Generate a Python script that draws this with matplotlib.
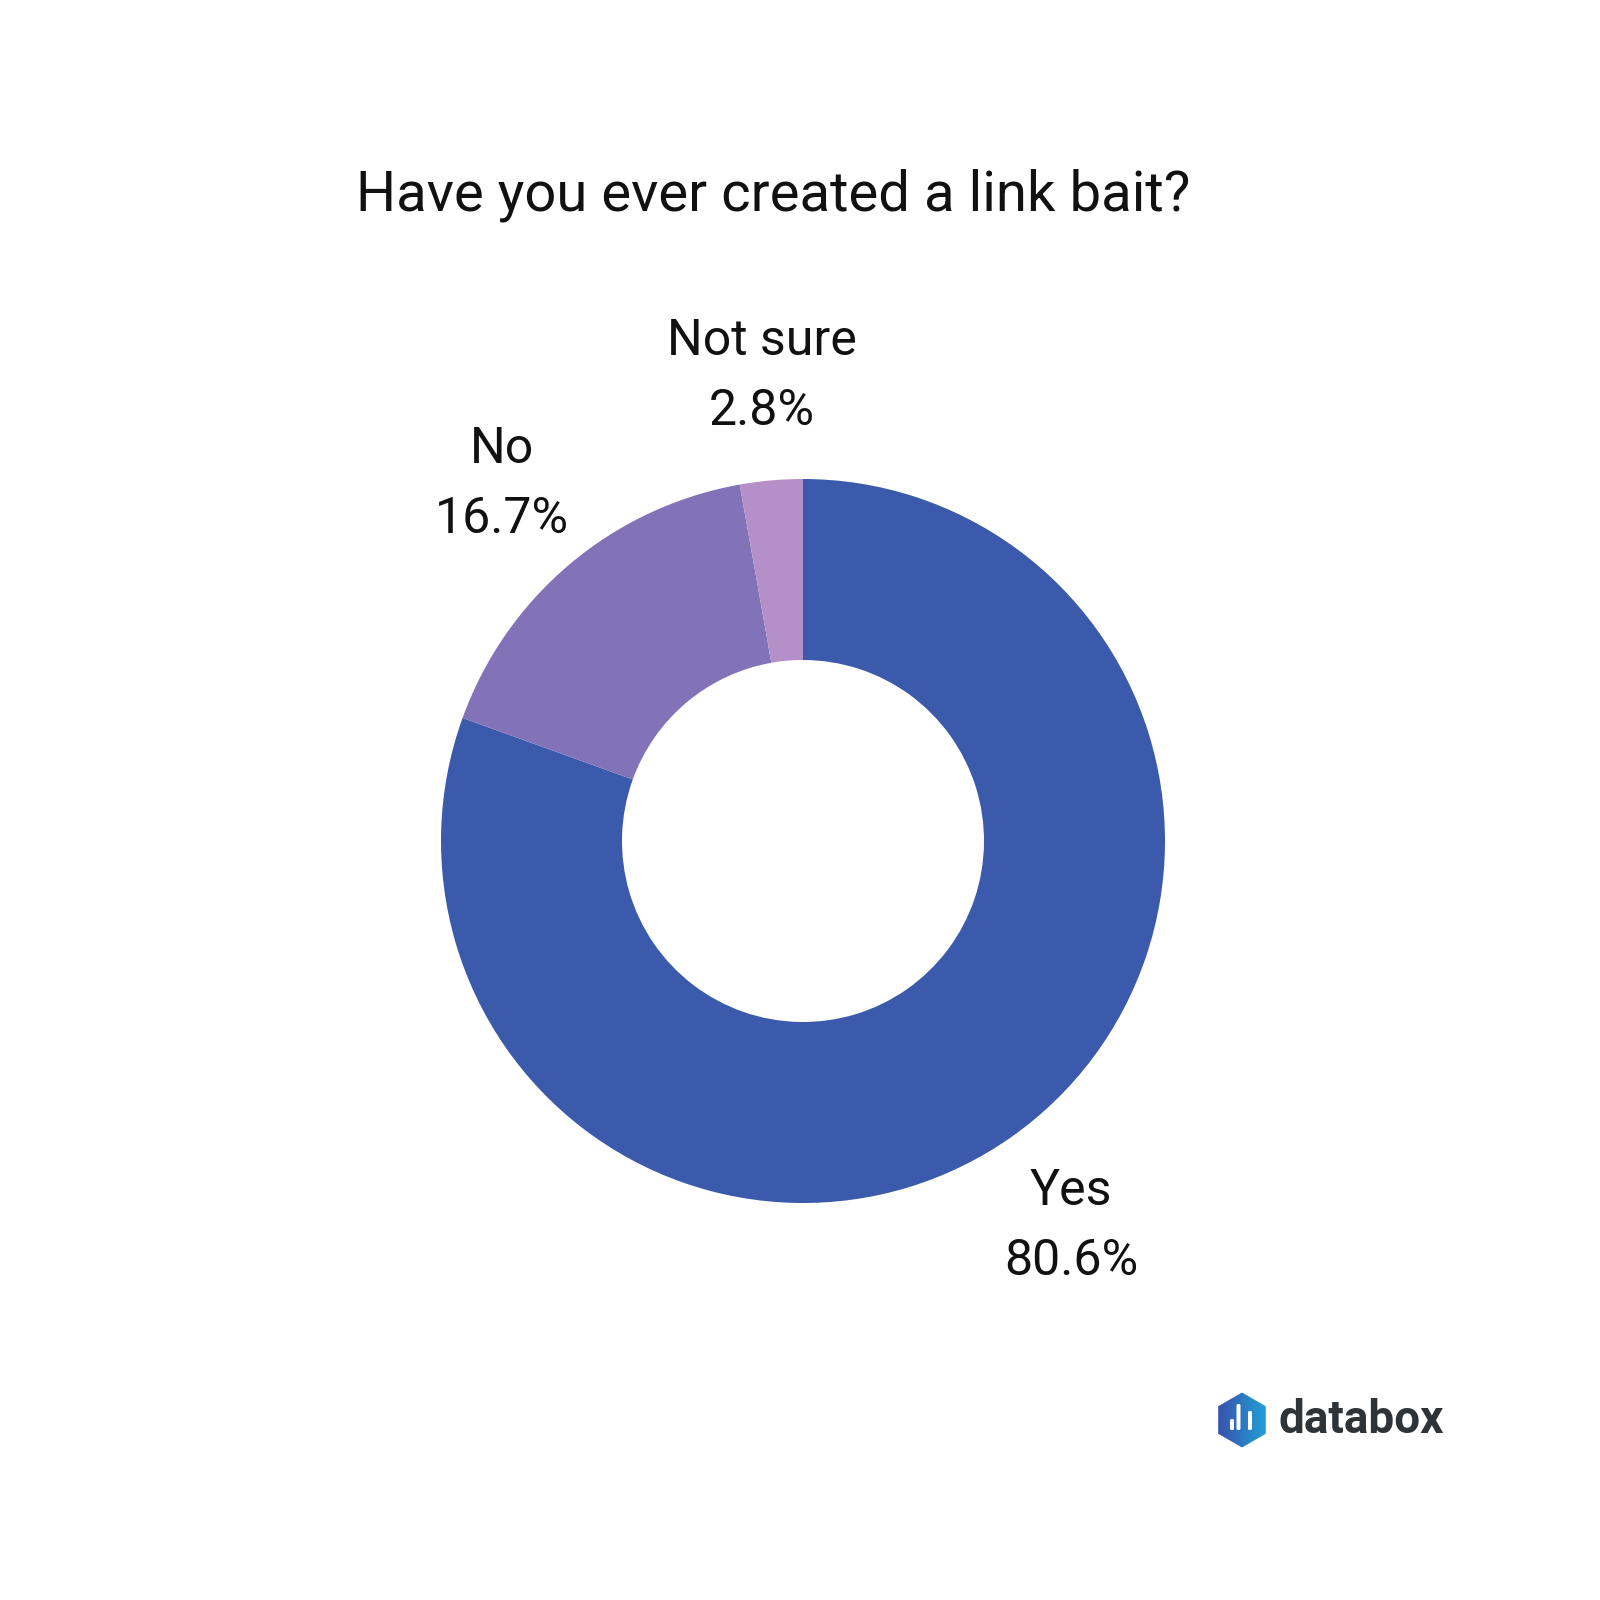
import numpy as np
import matplotlib.pyplot as plt
from matplotlib.patches import RegularPolygon, FancyBboxPatch
from matplotlib.colors import LinearSegmentedColormap

# data
labels = ["Yes", "No", "Not sure"]
shares = [80.6, 16.7, 2.8]
colors = ["#3C5AAB", "#8272B8", "#B48FC8"]

plt.rcParams["font.family"] = ["Roboto", "DejaVu Sans"]

fig = plt.figure(figsize=(16, 16), dpi=100, facecolor="white")
ax = fig.add_axes([0, 0, 1, 1])

H = 1600
cx, cy, r = 803, H - 841, 362
ax.pie(shares, colors=colors, startangle=90, counterclock=False,
       center=(cx, cy), radius=r, frame=True,
       wedgeprops=dict(width=r * 0.5, linewidth=0))
ax.set_xlim(0, 1600)
ax.set_ylim(0, 1600)
ax.set_aspect("equal")
ax.axis("off")

# slice labels
label_pos = [(1071, H - 1226), (502, H - 484), (762, H - 376)]
for lab, val, (x, y) in zip(labels, shares, label_pos):
    ax.text(x, y, f"{lab}\n{val}%", ha="center", va="center",
            fontsize=36, color="#111111", linespacing=1.6)

ax.text(773, H - 195, "Have you ever created a link bait?", ha="center",
        va="center", fontsize=40.5, color="#111111")

# databox logo
hx, hy = 1242, H - 1420
hexagon = RegularPolygon((hx, hy), numVertices=6, radius=27.5,
                         orientation=0, facecolor="none", edgecolor="none")
ax.add_patch(hexagon)
grad = LinearSegmentedColormap.from_list("logo", ["#3B4BA6", "#1FA6DE"])
img = ax.imshow(np.linspace(0, 1, 64).reshape(1, -1), cmap=grad,
                extent=(hx - 28, hx + 28, hy - 28, hy + 28), aspect="auto",
                zorder=3)
img.set_clip_path(hexagon)
for bx, top in [(1232, 1419), (1238.5, 1404), (1250, 1411)]:
    ax.add_patch(FancyBboxPatch((bx - 2, H - 1430), 4, 1430 - top,
                                boxstyle="round,pad=0,rounding_size=1.5",
                                facecolor="white", edgecolor="none", zorder=4))
ax.text(1278, hy, "databox", ha="left", va="center", fontsize=33,
        fontweight="semibold", color="#2E3338")

ax.set_xlim(0, 1600)
ax.set_ylim(0, 1600)
fig.savefig("out.png", dpi=100, facecolor="white")
